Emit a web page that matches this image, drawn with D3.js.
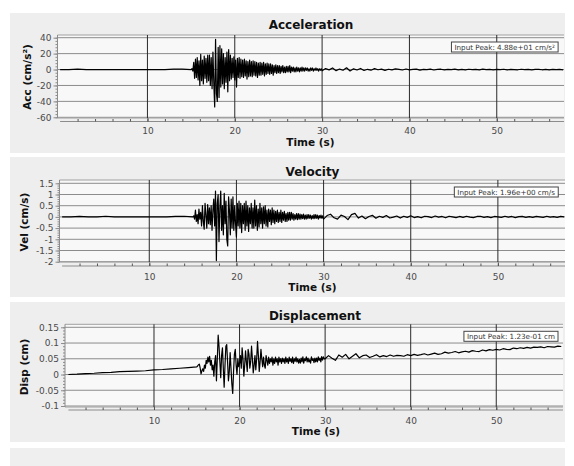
<!DOCTYPE html>
<html>
<head>
<meta charset="utf-8">
<script src="https://cdn.jsdelivr.net/npm/d3@7"></script>
<style>
  body { margin: 0; background: #fff; }
  svg { display: block; font-family: "DejaVu Sans", Verdana, sans-serif; }
</style>
</head>
<body>
<svg id="chart" width="574" height="466"></svg>
<script>
// ---- data ----
const timeTicks = [10, 20, 30, 40, 50];
const timeMinorStep = 2;

const accTicks = [40, 20, 0, -20, -40, -60];
const velTicks = [1.5, 1, 0.5, 0, -0.5, -1, -1.5, -2];
const dispTicks = [0.15, 0.1, 0.05, 0, -0.05, -0.1];

// every trace is stored in three pieces: pre-event (1 s step from 0 s),
// strong motion (0.1 s step from 15 s) and coda (0.4 s step from 30 s)
const quietStart = 0, quietStep = 1;
const strongStart = 15, strongStep = 0.1;
const tailStart = 30, tailStep = 0.4;

const accQuiet = [0, 0, 0.5, 0, 0, 0, 0, 0, 0, 0, 0, 0, 0, 0.4, 0.5];
const accStrong = [
  0, 1, -2, 9, -11, 13, -10, 15, -13, 11,
  -20, 19, -14, 12, -18, 17, -11, 14, -16, 18,
  -14, 18, -20, 15, -24, 22, -18, -47, 38, -30,
  -40, 28, -35, 30, -22, 26, -18, 20, -24, 15,
  -16, 22, -28, 25, -14, 18, -12, 14, -10, 16,
  -13, 12, -22, 14, -10, 15, -11, 13, -9, 12,
  -10, 13, -8, 11, -12, 10, -9, 12, -8, 10,
  -9, 11, -7, 10, -8, 9, -10, 8, -7, 9,
  -7, 8, -6, 9, -8, 7, -6, 8, -5, 7,
  -6, 7, -5, 6, -7, 5, -4, 6, -5, 5,
  -4, 5, -5, 4, -3, 5, -4, 3, -4, 4,
  -3, 4, -3, 5, -4, 3, -2, 3, -3, 2,
  -3, 3, -2, 2, -3, 2, -2, 3, -2, 2,
  -2, 2, -1, 2, -2, 1, -2, 2, -1, 2,
  -2, 1, -1, 2, -1, 1, -2, 1, -1, 1
];
const accTail = [
  -1.6, 1.2, -0.4, 2.0, -1.4, 0.6, -0.9, 2.2, -1.8, 0.9,
  -0.6, 1.4, -1.2, 0.3, -0.8, 1.1, -0.3, 0.6, -1.0, 0.4,
  -0.5, 0.8, 0.1, -0.6, 0.7, -0.4, 0.2, 0.6, -0.7, 0.3,
  -0.2, 0.5, -0.6, 0.1, 0.4, -0.5, 0.3, -0.2, 0.5, -0.4,
  0.2, -0.5, 0.4, -0.1, 0.3, -0.4, 0.5, -0.2, 0.1, -0.4,
  0.3, -0.2, 0.4, -0.5, 0.2, 0.0, -0.3, 0.4, -0.2, 0.3,
  -0.4, 0.1, 0.3, -0.3, 0.2, -0.4, 0.3, -0.1, 0.2, -0.3
];

const velQuiet = [0, 0, 0.02, 0, 0, 0.03, 0, 0, 0, 0, 0, 0, 0, 0.02, 0.03];
const velStrong = [
  0, 0.05, -0.1, 0.3, -0.2, 0.1, -0.3, 0.35, -0.1, 0.2,
  -0.4, 0.5, -0.2, -0.55, 0.6, 0.1, -0.5, 0.55, -0.3, 0.4,
  -0.35, 0.5, -0.6, 0.3, 0.8, -0.4, 1.15, -1.95, 0.6, 1.0,
  -1.1, 0.4, 1.15, -0.6, 0.5, -0.8, 1.05, -0.3, 0.7, -1.0,
  -1.3, 0.9, 0.3, -0.8, 0.8, -0.5, 0.9, -0.6, 0.5, -0.3,
  -0.9, 0.6, -0.4, 0.7, -0.5, 0.6, -0.7, 0.5, -0.3, 0.6,
  -0.6, 0.7, -0.4, 0.5, -0.65, 0.4, -0.3, 0.6, -0.5, 0.4,
  -0.5, 0.75, -0.4, 0.5, -0.6, 0.35, -0.45, 0.6, -0.3, 0.4,
  -0.5, 0.45, -0.3, 0.5, -0.4, 0.3, -0.45, 0.35, -0.2, 0.3,
  -0.35, 0.4, -0.25, 0.3, -0.3, 0.25, -0.2, 0.3, -0.25, 0.2,
  -0.2, 0.3, -0.25, 0.2, -0.15, 0.25, -0.2, 0.15, -0.2, 0.2,
  -0.15, 0.2, -0.15, 0.2, -0.1, 0.15, -0.15, 0.1, -0.1, 0.15,
  -0.12, 0.15, -0.1, 0.12, -0.1, 0.1, -0.08, 0.12, -0.1, 0.08,
  -0.1, 0.1, -0.08, 0.1, -0.06, 0.08, -0.1, 0.06, -0.08, 0.1,
  -0.08, 0.1, -0.06, 0.08, -0.1, 0.06, -0.05, 0.08, -0.06, 0.05
];
const velTail = [
  -0.1, 0.06, 0.12, -0.04, -0.1, 0.08, 0.02, -0.12, 0.1, 0.16,
  -0.05, 0.04, -0.08, 0.02, 0.07, -0.06, 0.03, -0.02, 0.06, -0.05,
  -0.01, 0.04, -0.05, 0.03, -0.02, 0.05, -0.03, 0.01, -0.04, 0.03,
  0.01, -0.03, 0.04, -0.01, 0.02, -0.04, 0.03, 0.0, -0.03, 0.02,
  -0.02, 0.03, -0.01, -0.03, 0.02, 0.03, -0.02, 0.01, -0.03, 0.02,
  0.0, -0.02, 0.03, -0.01, 0.02, -0.03, 0.01, 0.02, -0.02, 0.01,
  -0.02, 0.02, 0.0, -0.02, 0.03, -0.01, 0.01, -0.02, 0.02, 0.0
];

const dispQuiet = [0, 0.001, 0.003, 0.004, 0.006, 0.007, 0.009, 0.01, 0.011, 0.012, 0.015, 0.016, 0.018, 0.02, 0.022];
const dispStrong = [
  0.024, 0.027, 0.031, 0.033, 0.02, 0.002, 0.012, 0.018, 0.01, 0.03,
  0.02, 0.045, 0.035, 0.055, 0.04, 0.058, 0.03, 0.045, 0.015, 0.03,
  -0.005, 0.04, 0.06, -0.02, 0.05, 0.125, 0.09, 0.04, -0.01, 0.06,
  0.085, 0.02, -0.04, 0.03, 0.09, 0.095, 0.04, -0.02, 0.01, 0.07,
  0.02, -0.03, -0.06, 0.01, 0.065, 0.08, 0.03, 0.0, 0.05, 0.025,
  0.035, 0.06, 0.02, 0.085, 0.05, -0.005, 0.03, 0.075, 0.04, 0.01,
  0.08, 0.065, 0.02, 0.04, 0.09, 0.05, 0.005, 0.03, 0.06, 0.015,
  0.05, 0.105, 0.06, 0.01, 0.04, 0.08, 0.05, 0.025, 0.055, 0.03,
  0.02, 0.06, 0.045, 0.03, 0.055, 0.035, 0.05, 0.04, 0.055, 0.03,
  0.05, 0.035, 0.055, 0.04, 0.05, 0.03, 0.055, 0.04, 0.05, 0.035,
  0.052, 0.04, 0.05, 0.035, 0.055, 0.04, 0.05, 0.035, 0.055, 0.042,
  0.05, 0.038, 0.055, 0.035, 0.05, 0.042, 0.055, 0.04, 0.05, 0.036,
  0.048, 0.036, 0.052, 0.04, 0.056, 0.036, 0.05, 0.044, 0.056, 0.04,
  0.052, 0.04, 0.047, 0.036, 0.056, 0.045, 0.05, 0.038, 0.052, 0.04,
  0.052, 0.04, 0.056, 0.045, 0.052, 0.04, 0.057, 0.046, 0.056, 0.05
];
const dispTail = [
  0.05, 0.06, 0.052, 0.045, 0.062, 0.055, 0.064, 0.05, 0.058, 0.066,
  0.053, 0.06, 0.062, 0.054, 0.058, 0.063, 0.056, 0.06, 0.057, 0.062,
  0.058, 0.061, 0.06, 0.058, 0.063, 0.06, 0.064, 0.061, 0.063, 0.066,
  0.062, 0.065, 0.068, 0.064, 0.066, 0.071, 0.068, 0.07, 0.073, 0.069,
  0.072, 0.074, 0.071, 0.076, 0.074, 0.073, 0.078, 0.075, 0.079, 0.077,
  0.08, 0.078, 0.082, 0.08, 0.079, 0.084, 0.082, 0.085, 0.083, 0.086,
  0.084, 0.087, 0.086, 0.088, 0.085, 0.089, 0.088, 0.087, 0.09, 0.089
];

// ---- helpers ----
function toPoints(values, start, step) {
  return values.map((v, i) => [start + i * step, v]);
}
function buildTrace(quiet, strong, tail) {
  return toPoints(quiet, quietStart, quietStep)
    .concat(toPoints(strong, strongStart, strongStep))
    .concat(toPoints(tail, tailStart, tailStep));
}

const svg = d3.select('#chart');

const panels = [
  { title: 'Acceleration', yLabel: 'Acc (cm/s²)', peak: 'Input Peak: 4.88e+01 cm/s²',
    trace: buildTrace(accQuiet, accStrong, accTail), ticks: accTicks, minorStep: 4,
    top: 13, titleY: 28.5, plotTop: 35, tickPx: [117.3, 37.7], plotBottom: 118,
    axisY: 121.5, labelY: 133.5, timeY: 146, left: 57.5, right: 564,
    xDomain: [-0.3, 57.7], titleX: 311, timeX: 310.5, yLabelX: 27, yLabelY: 77 },
  { title: 'Velocity', yLabel: 'Vel (cm/s)', peak: 'Input Peak: 1.96e+00 cm/s',
    trace: buildTrace(velQuiet, velStrong, velTail), ticks: velTicks, minorStep: 0.1,
    top: 157, titleY: 175.5, plotTop: 180, tickPx: [261.7, 183.3], plotBottom: 262,
    axisY: 266, labelY: 280, timeY: 290.5, left: 59.5, right: 565,
    xDomain: [-0.3, 57.7], titleX: 312.5, timeX: 312.5, yLabelX: 24, yLabelY: 222 },
  { title: 'Displacement', yLabel: 'Disp (cm)', peak: 'Input Peak: 1.23e-01 cm',
    trace: buildTrace(dispQuiet, dispStrong, dispTail), ticks: dispTicks, minorStep: 0.01,
    top: 302, titleY: 319.5, plotTop: 324.3, tickPx: [406, 327.3], plotBottom: 407,
    axisY: 410, labelY: 423.5, timeY: 435, left: 65, right: 563,
    xDomain: [-0.4, 57.8], titleX: 315, timeX: 316, yLabelX: 24, yLabelY: 367 }
];

panels.forEach((p, idx) => drawPanel(p, idx));

// start of a fourth panel, cut off at the bottom of the window
svg.append('rect')
  .attr('x', 10).attr('y', 448).attr('width', 555).attr('height', 18)
  .attr('fill', '#efefef');

function drawPanel(p, idx) {
  let g = svg.append('g');

  g.append('rect')
    .attr('x', 10).attr('y', p.top).attr('width', 555).attr('height', 140)
    .attr('fill', '#eeeeee');

  let x = d3.scaleLinear().domain(p.xDomain).range([p.left, p.right]);
  let yMin = p.ticks[p.ticks.length - 1], yMax = p.ticks[0];
  let y = d3.scaleLinear().domain([yMin, yMax]).range(p.tickPx);

  // plot area
  g.append('rect')
    .attr('x', p.left).attr('y', p.plotTop)
    .attr('width', p.right - p.left).attr('height', p.plotBottom - p.plotTop)
    .attr('fill', '#f8f8f8');

  // horizontal grid
  g.selectAll('.hgrid')
    .data(p.ticks)
    .enter()
    .append('line')
    .attr('x1', p.left).attr('x2', p.right)
    .attr('y1', d => y(d)).attr('y2', d => y(d))
    .attr('stroke', '#8c8c8c').attr('stroke-width', 1);

  // frame top / bottom
  [p.plotTop, p.plotBottom].forEach(py => {
    g.append('line')
      .attr('x1', p.left).attr('x2', p.right).attr('y1', py).attr('y2', py)
      .attr('stroke', '#a0a0a0');
  });

  // vertical grid
  g.selectAll('.vgrid')
    .data(timeTicks)
    .enter()
    .append('line')
    .attr('x1', d => x(d)).attr('x2', d => x(d))
    .attr('y1', p.plotTop).attr('y2', p.plotBottom)
    .attr('stroke', '#2a2a2a').attr('stroke-width', 1);

  // trace
  let clipId = 'clip' + idx;
  g.append('clipPath').attr('id', clipId)
    .append('rect')
    .attr('x', p.left).attr('y', p.plotTop)
    .attr('width', p.right - p.left).attr('height', p.plotBottom - p.plotTop);

  let line = d3.line().x(d => x(d[0])).y(d => y(d[1]));
  g.append('path')
    .datum(p.trace)
    .attr('clip-path', `url(#${clipId})`)
    .attr('d', line)
    .attr('fill', 'none')
    .attr('stroke', '#000')
    .attr('stroke-width', 1.2)
    .attr('stroke-linejoin', 'round');

  // peak box
  let peakG = g.append('g');
  let peakRect = peakG.append('rect');
  let peakText = peakG.append('text')
    .attr('x', 555).attr('y', p.plotTop + 14.5)
    .attr('text-anchor', 'end')
    .attr('font-size', 7.2)
    .attr('fill', '#333')
    .text(p.peak);
  let bb = peakText.node().getBBox();
  peakRect
    .attr('x', bb.x - 3).attr('y', p.plotTop + 7)
    .attr('width', bb.width + 6).attr('height', 10)
    .attr('fill', '#fff').attr('stroke', '#444').attr('stroke-width', 1);

  // y axis
  g.append('line')
    .attr('x1', p.left).attr('x2', p.left)
    .attr('y1', p.plotTop).attr('y2', p.plotBottom)
    .attr('stroke', '#8c8c8c');

  let minorY = d3.range(Math.round(yMin / p.minorStep), Math.round(yMax / p.minorStep) + 1)
    .map(k => k * p.minorStep);
  let yMinorAxis = d3.axisLeft(y).tickValues(minorY).tickSize(2).tickFormat('');
  g.append('g')
    .attr('transform', `translate(${p.left},0)`)
    .call(yMinorAxis)
    .call(a => a.select('.domain').remove())
    .selectAll('line').attr('stroke', '#8c8c8c');

  let yAxis = d3.axisLeft(y).tickValues(p.ticks).tickSize(4).tickPadding(2)
    .tickFormat(d => String(d));
  g.append('g')
    .attr('transform', `translate(${p.left},0)`)
    .call(yAxis)
    .call(a => a.select('.domain').remove())
    .call(a => a.selectAll('line').attr('stroke', '#8c8c8c'))
    .selectAll('text')
    .attr('font-size', 9)
    .attr('font-family', '"DejaVu Sans", Verdana, sans-serif')
    .attr('fill', '#4a4a4a');

  // x axis (separate strip under the plot, ticks pointing up)
  let minorX = d3.range(0, p.xDomain[1], timeMinorStep).filter(t => t > 0);
  let xMinorAxis = d3.axisBottom(x).tickValues(minorX).tickSize(-2.5).tickSizeOuter(0).tickFormat('');
  g.append('g')
    .attr('transform', `translate(0,${p.axisY})`)
    .call(xMinorAxis)
    .call(a => a.select('.domain').attr('stroke', '#8c8c8c').attr('d', `M${x(0)},0H${p.right}`))
    .selectAll('line').attr('stroke', '#555');

  let xAxis = d3.axisBottom(x).tickValues(timeTicks).tickSize(-3.5).tickSizeOuter(0).tickPadding(0)
    .tickFormat(d => String(d));
  g.append('g')
    .attr('transform', `translate(0,${p.axisY})`)
    .call(xAxis)
    .call(a => a.select('.domain').remove())
    .call(a => a.selectAll('line').attr('stroke', '#555'))
    .selectAll('text')
    .attr('dy', null)
    .attr('y', p.labelY - p.axisY)
    .attr('font-size', 9)
    .attr('font-family', '"DejaVu Sans", Verdana, sans-serif')
    .attr('fill', '#4a4a4a');

  // titles
  g.append('text')
    .attr('x', p.titleX).attr('y', p.titleY)
    .attr('text-anchor', 'middle')
    .attr('font-size', 12).attr('font-weight', 'bold')
    .attr('fill', '#111')
    .text(p.title);

  g.append('text')
    .attr('x', p.timeX).attr('y', p.timeY)
    .attr('text-anchor', 'middle')
    .attr('font-size', 10.5).attr('font-weight', 'bold')
    .attr('fill', '#111')
    .text('Time (s)');

  g.append('text')
    .attr('transform', `translate(${p.yLabelX + 4},${p.yLabelY}) rotate(-90)`)
    .attr('text-anchor', 'middle')
    .attr('font-size', 10.5).attr('font-weight', 'bold')
    .attr('fill', '#111')
    .text(p.yLabel);
}
</script>
</body>
</html>
